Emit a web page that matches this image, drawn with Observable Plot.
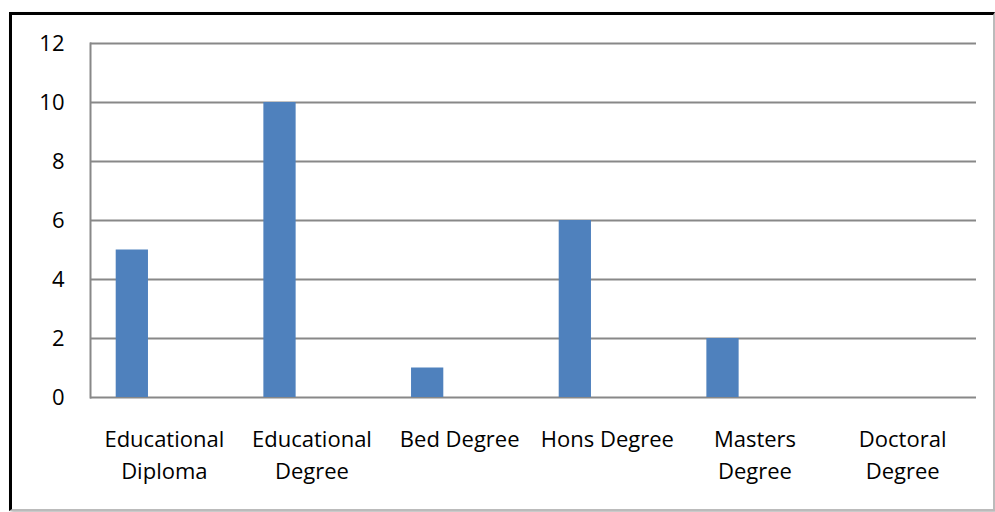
<!DOCTYPE html>
<html>
<head>
<meta charset="utf-8">
<script src="https://cdn.jsdelivr.net/npm/d3@7"></script>
<script src="https://cdn.jsdelivr.net/npm/@observablehq/plot@0.6"></script>
<style>
  html, body { margin: 0; padding: 0; background: #fff; }
  #wrap { position: relative; width: 995px; height: 512px; overflow: hidden; }
  #box { position: absolute; left: 9px; top: 12px; width: 981px; height: 494px;
         border-top: 3px solid #000; border-left: 3px solid #000;
         border-right: 2px solid #bbb; border-bottom: 2px solid #bbb;
         box-shadow: 2px 2px 3px rgba(0,0,0,0.25); pointer-events: none; }
  #chart { position: absolute; left: 0; top: 0; }
</style>
</head>
<body>
<div id="wrap"><div id="box"></div><div id="chart"></div></div>
<script>
const categories = ["Educational\nDiploma", "Educational\nDegree", "Bed Degree", "Hons Degree", "Masters\nDegree", "Doctoral\nDegree"];
const values = [5, 10, 1, 6, 2, 0];
const yTicks = [0, 2, 4, 6, 8, 10, 12];

const data = categories.map((c, i) => ({category: c, value: values[i]}));
const font = "'Open Sans', sans-serif";

const chart = Plot.plot({
  width: 995,
  height: 512,
  marginLeft: 90,
  marginRight: 19,
  marginTop: 43,
  marginBottom: 115,
  style: {fontFamily: font, background: "transparent"},
  x: {domain: categories, padding: 0, round: false},
  y: {domain: [0, 12]},
  marks: [
    Plot.gridY(yTicks, {stroke: "#888", strokeOpacity: 1, strokeWidth: 2}),
    Plot.frame({anchor: "left", stroke: "#888", strokeWidth: 2}),
    Plot.barY(data, {x: "category", y: "value", fill: "#4F81BD", insetLeft: 25.7, insetRight: 89.7}),
    Plot.axisY(yTicks, {tickSize: 0, tickPadding: 26, fontSize: 22, fill: "#000", label: null}),
    Plot.axisX({tickSize: 0, tickPadding: 27, fontSize: 22, lineHeight: 1.45, fill: "#000", label: null})
  ]
});
document.getElementById("chart").appendChild(chart);
</script>
</body>
</html>
